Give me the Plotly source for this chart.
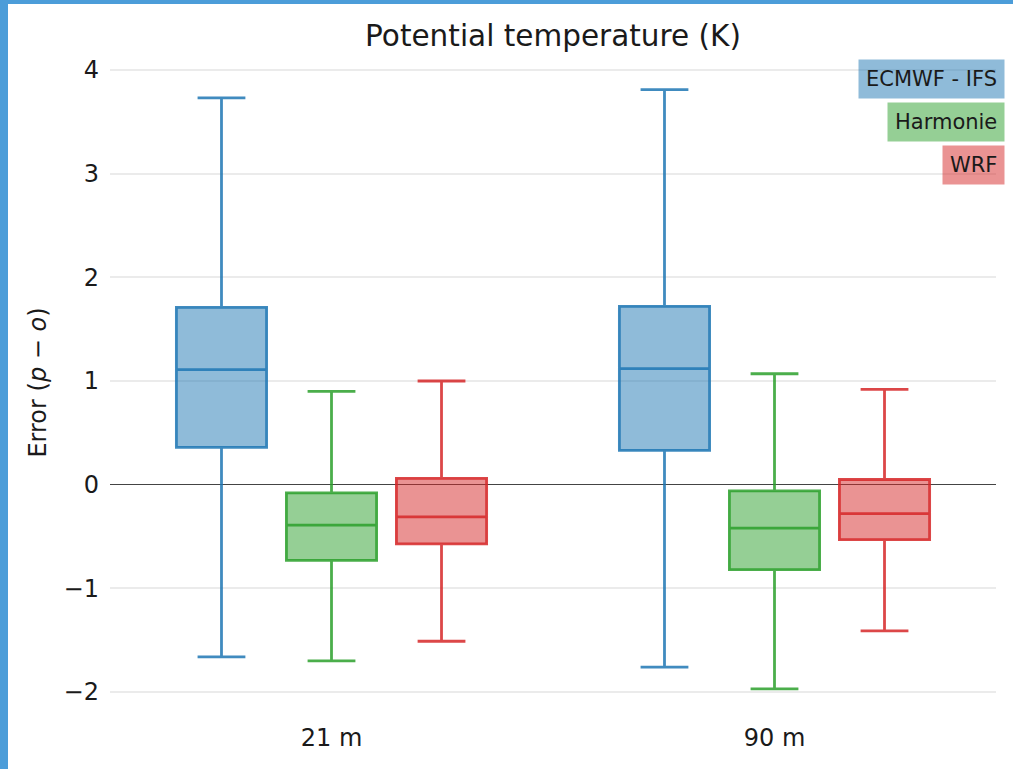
import plotly.graph_objects as go

categories = ["21 m", "90 m"]
models = ["ECMWF - IFS", "Harmonie", "WRF"]
lower = {"ECMWF - IFS": [-1.66, -1.76], "Harmonie": [-1.70, -1.97], "WRF": [-1.51, -1.41]}
q1 = {"ECMWF - IFS": [0.36, 0.33], "Harmonie": [-0.73, -0.82], "WRF": [-0.57, -0.53]}
median = {"ECMWF - IFS": [1.11, 1.12], "Harmonie": [-0.39, -0.42], "WRF": [-0.31, -0.28]}
q3 = {"ECMWF - IFS": [1.71, 1.72], "Harmonie": [-0.08, -0.06], "WRF": [0.06, 0.05]}
upper = {"ECMWF - IFS": [3.73, 3.81], "Harmonie": [0.90, 1.07], "WRF": [1.00, 0.92]}

line_colors = {"ECMWF - IFS": "rgba(31,119,180,0.85)", "Harmonie": "rgba(44,160,44,0.85)", "WRF": "rgba(214,39,40,0.85)"}
fill_colors = {"ECMWF - IFS": "rgba(31,119,180,0.5)", "Harmonie": "rgba(44,160,44,0.5)", "WRF": "rgba(214,39,40,0.5)"}

FONT = "DejaVu Sans"
fig = go.Figure()
for m in models:
    fig.add_trace(go.Box(
        x=categories, q1=q1[m], median=median[m], q3=q3[m],
        lowerfence=lower[m], upperfence=upper[m],
        name=m, line=dict(color=line_colors[m], width=2.8),
        fillcolor=fill_colors[m], whiskerwidth=0.53, boxpoints=False,
        showlegend=False, hoverinfo="skip",
    ))

L, R, T, B = 110, 17, 60, 64
W, H = 1013, 769
pw, ph = W - L - R, H - T - B

fig.update_layout(
    width=W, height=H, boxmode="group", boxgap=0.255, boxgroupgap=0.18,
    margin=dict(l=L, r=R, t=T, b=B),
    paper_bgcolor="white", plot_bgcolor="white",
    font=dict(family=FONT, size=24, color="#1a1a1a"),
    title=dict(text="Potential temperature (K)", xref="paper", x=0.5, xanchor="center",
               y=1 - 36 / H, yanchor="middle",
               font=dict(size=29.5, family=FONT, color="#1a1a1a")),
    xaxis=dict(type="category", range=[-0.5, 1.5], showgrid=False, showline=False, zeroline=False,
               ticks="", ticklabelstandoff=16, tickfont=dict(size=24)),
    yaxis=dict(range=[-2.125, 4.096], tickvals=[-2, -1, 0, 1, 2, 3, 4],
               ticktext=["\u22122", "\u22121", "0", "1", "2", "3", "4"],
               showgrid=True, gridcolor="#ebebeb", gridwidth=1.5,
               zeroline=True, zerolinecolor="#444444", zerolinewidth=1.2,
               showline=False, ticks="", ticklabelstandoff=10, tickfont=dict(size=24),
               title=dict(text="Error (<i>p</i> \u2212 <i>o</i>)", font=dict(size=24), standoff=10)),
)

# legend boxes as annotations
leg_y = [79, 122, 165]
for m, yy in zip(models, leg_y):
    fig.add_annotation(xref="paper", yref="paper", x=(1005 - L) / pw, y=(H - B - yy) / ph,
                       xanchor="right", yanchor="middle", text=m, showarrow=False,
                       bgcolor=fill_colors[m], borderpad=7, font=dict(size=21, color="#1a1a1a"))

# page frame (blue strips at left and top)
frame = "#4c9dd9"
fig.add_shape(type="rect", xref="paper", yref="paper", x0=-L / pw, x1=(8 - L) / pw,
              y0=-B / ph, y1=(H - B) / ph, fillcolor=frame, line_width=0, layer="above")
fig.add_shape(type="rect", xref="paper", yref="paper", x0=-L / pw, x1=(W - L) / pw,
              y0=(H - B - 4) / ph, y1=(H - B) / ph, fillcolor=frame, line_width=0, layer="above")

fig.write_html("out.html", config={"displayModeBar": False},
               post_script="document.body.style.margin='0';document.body.style.overflow='hidden';")
